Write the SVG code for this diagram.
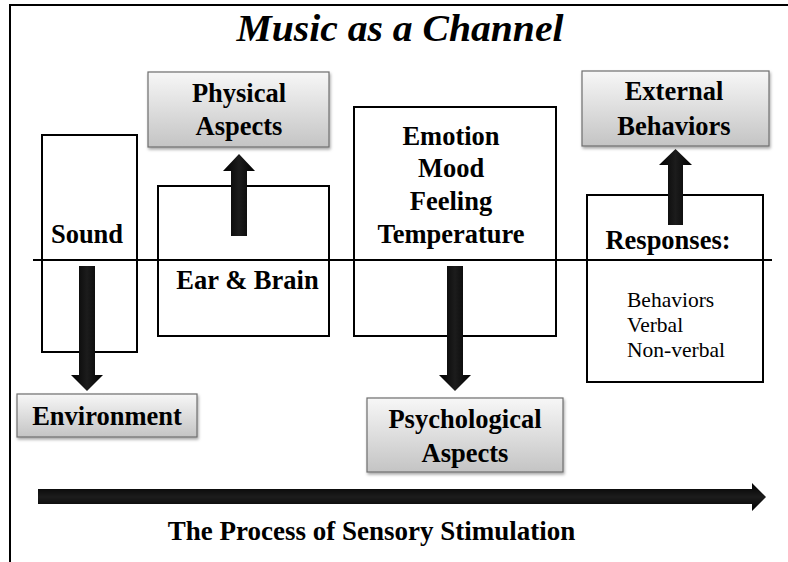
<svg xmlns="http://www.w3.org/2000/svg" width="788" height="562" viewBox="0 0 788 562">
<defs>
<linearGradient id="gbox" x1="0" y1="0" x2="0" y2="1">
<stop offset="0" stop-color="#f7f7f7"/>
<stop offset="1" stop-color="#c4c4c4"/>
</linearGradient>
<linearGradient id="garrV" x1="0" y1="0" x2="1" y2="0">
<stop offset="0" stop-color="#000"/>
<stop offset="0.5" stop-color="#1c1c1c"/>
<stop offset="1" stop-color="#000"/>
</linearGradient>
<linearGradient id="garrH" x1="0" y1="0" x2="0" y2="1">
<stop offset="0" stop-color="#000"/>
<stop offset="0.5" stop-color="#1c1c1c"/>
<stop offset="1" stop-color="#000"/>
</linearGradient>
<filter id="sh" x="-10%" y="-10%" width="130%" height="140%">
<feDropShadow dx="1" dy="2" stdDeviation="1.5" flood-color="#000" flood-opacity="0.35"/>
</filter>
</defs>
<style>
.box{fill:none;stroke:#000;stroke-width:2}
.gbox{fill:url(#gbox);stroke:#6e6e6e;stroke-width:1.2;filter:url(#sh)}
.t{font-family:"Liberation Serif","Times New Roman",serif;font-weight:bold;font-size:26.5px;fill:#000;text-anchor:middle}
.r{font-family:"Liberation Serif","Times New Roman",serif;font-size:21.5px;fill:#000}
.title{font-family:"Liberation Serif","Times New Roman",serif;font-weight:bold;font-style:italic;font-size:37px;fill:#000;text-anchor:middle}
.av{fill:url(#garrV)}
.ah{fill:url(#garrH)}
</style>
<rect width="788" height="562" fill="#fff"/>
<path d="M10,562 V5 H788" fill="none" stroke="#000" stroke-width="2"/>
<text class="title" x="400" y="41" textLength="327" lengthAdjust="spacingAndGlyphs">Music as a Channel</text>

<g id="sound">
<rect class="box" x="42" y="135" width="95" height="217"/>
<text class="t" x="87" y="243">Sound</text>
</g>
<g id="ear-brain">
<rect class="box" x="158" y="186" width="171" height="150"/>
<text class="t" x="247.5" y="289">Ear &amp; Brain</text>
</g>
<g id="emotion">
<rect class="box" x="354" y="107" width="202" height="229"/>
<text class="t" x="451" y="145">Emotion</text>
<text class="t" x="451" y="177">Mood</text>
<text class="t" x="451" y="210">Feeling</text>
<text class="t" x="451" y="243">Temperature</text>
</g>
<g id="responses">
<rect class="box" x="587" y="195" width="176" height="187"/>
<text class="t" x="668" y="249">Responses:</text>
<text class="r" x="627" y="307">Behaviors</text>
<text class="r" x="627" y="332">Verbal</text>
<text class="r" x="627" y="357">Non-verbal</text>
</g>
<g id="physical-aspects">
<rect class="gbox" x="148" y="72" width="181" height="75"/>
<text class="t" x="239" y="102">Physical</text>
<text class="t" x="239" y="135">Aspects</text>
</g>
<g id="external-behaviors">
<rect class="gbox" x="582" y="71" width="187" height="75"/>
<text class="t" x="674" y="100">External</text>
<text class="t" x="674" y="135">Behaviors</text>
</g>
<g id="environment">
<rect class="gbox" x="17" y="394" width="180" height="43"/>
<text class="t" x="107" y="425">Environment</text>
</g>
<g id="psychological-aspects">
<rect class="gbox" x="367" y="398" width="196" height="74"/>
<text class="t" x="465" y="428">Psychological</text>
<text class="t" x="465" y="462">Aspects</text>
</g>

<line x1="33" y1="260" x2="772" y2="260" stroke="#000" stroke-width="2"/>

<g id="connectors">
<polygon class="av" points="79,266 95,266 95,375 103,375 87,391 71,375 79,375"/>
<polygon class="av" points="231,236 231,171 223,171 239,154 255,171 247,171 247,236"/>
<polygon class="av" points="447,266 463,266 463,375 471,375 455,391 439,375 447,375"/>
<polygon class="av" points="668,225 668,165 659,165 675.5,149 692,165 683,165 683,225"/>
<polygon class="ah" points="38,489 752,489 752,483 766,497 752,511 752,504 38,504"/>
</g>
<text class="t" x="371.5" y="540" style="font-size:27px">The Process of Sensory Stimulation</text>
</svg>
